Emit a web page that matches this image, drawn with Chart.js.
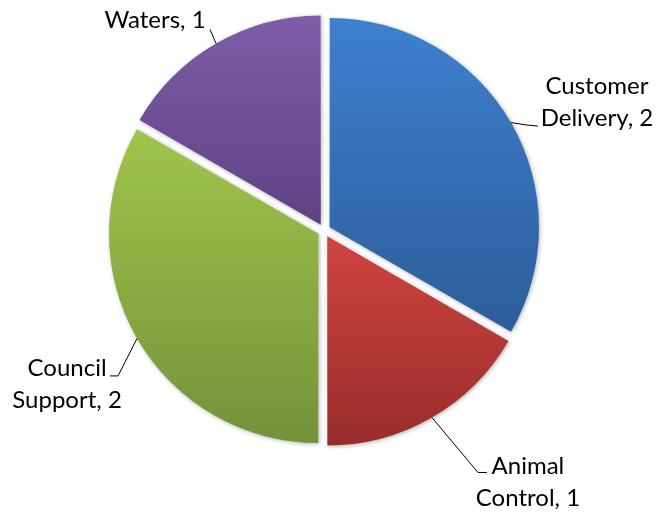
<!DOCTYPE html>
<html>
<head>
<meta charset="utf-8">
<script src="https://cdn.jsdelivr.net/npm/chart.js@4.4.1/dist/chart.umd.min.js"></script>
<style>
  html, body { margin: 0; padding: 0; background: #fff; }
  #wrap { width: 658px; height: 512px; }
</style>
</head>
<body>
<div id="wrap"><canvas id="pie-chart"></canvas></div>
<script>
var categories = ["Customer Delivery", "Animal Control", "Council Support", "Waters"];
var counts = [2, 1, 2, 1];
var topColors = ["#3e80cf", "#d0443f", "#a0c54c", "#7f5ca8"];
var bottomColors = ["#2c5d99", "#982d2b", "#74923a", "#5e4283"];

// leader line / label placement, offsets from the point on the slice edge
var labelLayout = [
  { elbow: [16, 2.5], end: [27, 3.5], text: [86, -28.5] },
  { elbow: [46, 55], end: [55, 55], text: [96, 57] },
  { elbow: [-19, 37.5], end: [-27, 37.5], text: [-70, 37.5] },
  { elbow: [-6, -14], end: [-6, -14], text: [-61, -16] }
];
var lineGap = 32;
var labelFont = "24px Lato";

function labelLines(i) {
  var name = categories[i];
  var sp = name.indexOf(" ");
  if (sp < 0) return [name + ", " + counts[i]];
  return [name.slice(0, sp), name.slice(sp + 1) + ", " + counts[i]];
}

function sectorBounds(el) {
  var r = el.outerRadius;
  var ys = [el.y, el.y + Math.sin(el.startAngle) * r, el.y + Math.sin(el.endAngle) * r];
  for (var k = -4; k <= 8; k++) {
    var a = k * Math.PI / 2;
    if (a > el.startAngle && a < el.endAngle) ys.push(el.y + Math.sin(a) * r);
  }
  return { min: Math.min.apply(null, ys), max: Math.max.apply(null, ys) };
}

function sliceColor(context) {
  var i = context.dataIndex;
  var el = context.element;
  if (!el || el.x === undefined || !isFinite(el.outerRadius) || el.outerRadius <= 0) {
    return topColors[i];
  }
  var b = sectorBounds(el);
  var g = context.chart.ctx.createLinearGradient(0, b.min, 0, b.max);
  g.addColorStop(0, topColors[i]);
  g.addColorStop(1, bottomColors[i]);
  return g;
}

var shadowPlugin = {
  id: "shadow",
  beforeDatasetsDraw: function(chart) {
    var ctx = chart.ctx;
    ctx.save();
    ctx.shadowColor = "rgba(0,0,0,0.3)";
    ctx.shadowBlur = 4;
    ctx.shadowOffsetX = 1;
    ctx.shadowOffsetY = 1;
  },
  afterDatasetsDraw: function(chart) {
    chart.ctx.restore();
  }
};

var labelPlugin = {
  id: "leaderLabels",
  afterDraw: function(chart) {
    var ctx = chart.ctx;
    var meta = chart.getDatasetMeta(0);
    ctx.save();
    ctx.font = labelFont;
    ctx.fillStyle = "#000";
    ctx.strokeStyle = "#000";
    ctx.lineWidth = 1;
    ctx.textAlign = "center";
    ctx.textBaseline = "alphabetic";
    meta.data.forEach(function(el, i) {
      var mid = (el.startAngle + el.endAngle) / 2;
      var off = (el.options.offset || 0) / 4;
      var fix = 1 - Math.sin(Math.min(Math.PI, el.circumference));
      var rr = el.outerRadius + off + off * fix;
      var px = el.x + Math.cos(mid) * rr;
      var py = el.y + Math.sin(mid) * rr;
      var L = labelLayout[i];
      ctx.beginPath();
      ctx.moveTo(px, py);
      ctx.lineTo(px + L.elbow[0], py + L.elbow[1]);
      ctx.lineTo(px + L.end[0], py + L.end[1]);
      ctx.stroke();
      labelLines(i).forEach(function(line, j) {
        ctx.fillText(line, px + L.text[0], py + L.text[1] + j * lineGap);
      });
    });
    ctx.restore();
  }
};

var chart = new Chart("pie-chart", {
  type: "pie",
  data: {
    labels: categories,
    datasets: [{
      data: counts,
      backgroundColor: sliceColor,
      borderWidth: 0,
      offset: 26,
      hoverOffset: 0
    }]
  },
  options: {
    responsive: true,
    maintainAspectRatio: false,
    animation: false,
    layout: { padding: { top: 9, bottom: 60, left: 100, right: 110 } },
    plugins: {
      legend: { display: false },
      tooltip: { enabled: false }
    }
  },
  plugins: [shadowPlugin, labelPlugin]
});
chart.update();
</script>
</body>
</html>
